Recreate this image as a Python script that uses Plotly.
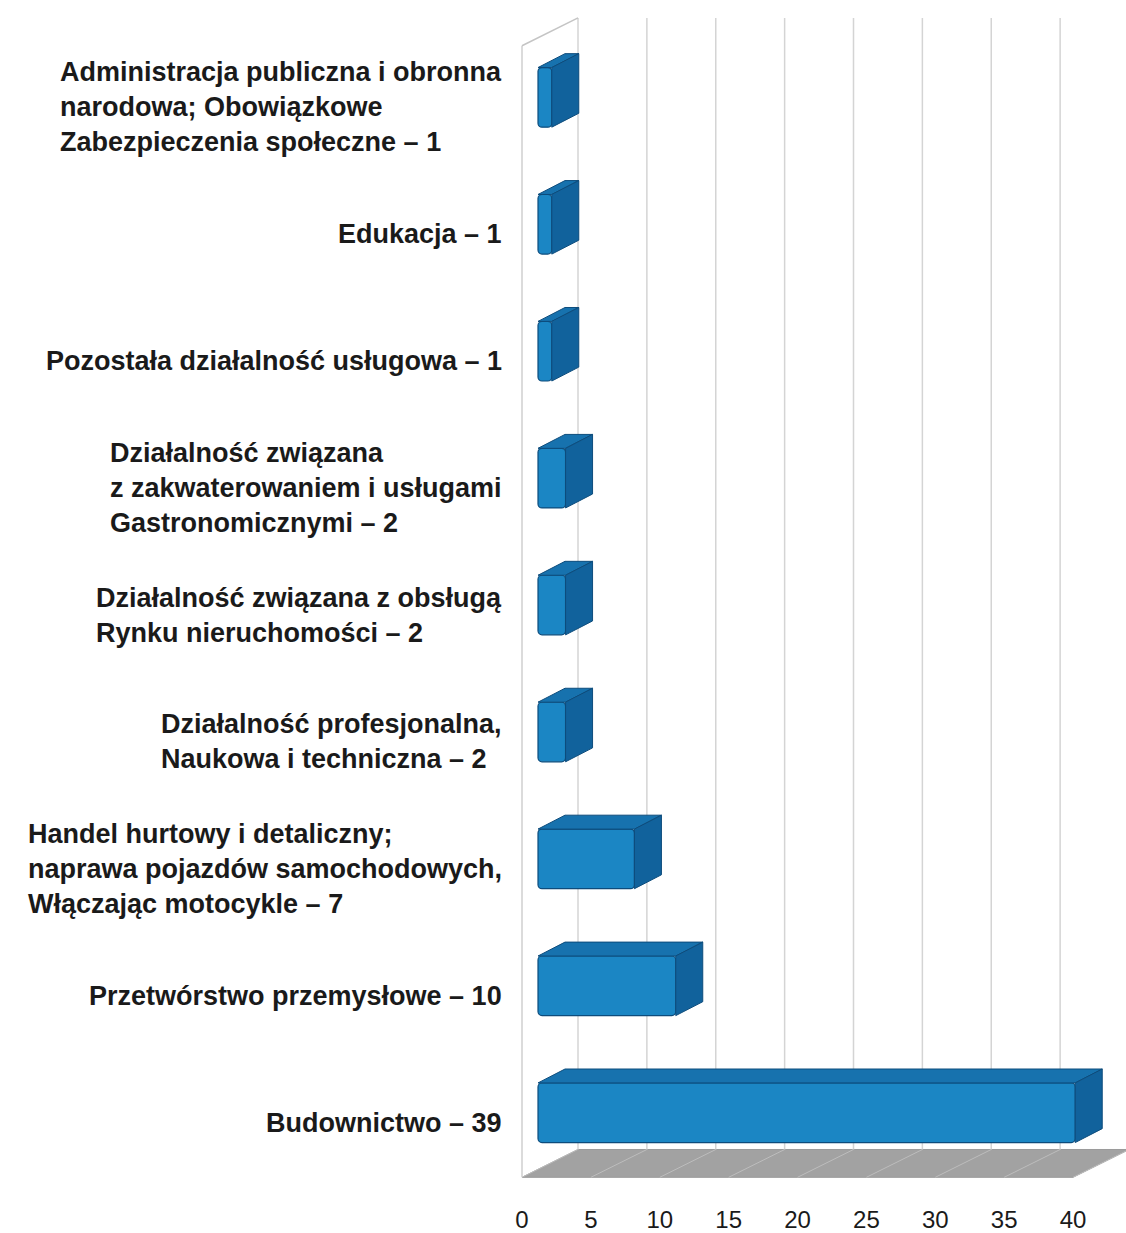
import plotly.graph_objects as go

# ---------------- data ----------------
categories = [
    "Administracja publiczna i obronna<br>narodowa; Obowiązkowe<br>Zabezpieczenia społeczne",
    "Edukacja",
    "Pozostała działalność usługowa",
    "Działalność związana<br>z zakwaterowaniem i usługami<br>Gastronomicznymi",
    "Działalność związana z obsługą<br>Rynku nieruchomości",
    "Działalność profesjonalna,<br>Naukowa i techniczna",
    "Handel hurtowy i detaliczny;<br>naprawa pojazdów samochodowych,<br>Włączając motocykle",
    "Przetwórstwo przemysłowe",
    "Budownictwo",
]
values = [1, 1, 1, 2, 2, 2, 7, 10, 39]
tick_values = [0, 5, 10, 15, 20, 25, 30, 35, 40]
tick_labels = ["0", "5", "10", "15", "20", "25", "30", "35", "40"]

# ---------------- geometry (pixels -> axis units) ----------------
W, H = 1126, 1233
X0_PX, PX_PER_UNIT = 522.0, 13.775
ROW0_PX, ROW_PX = 98.0, 127.75


def xd(px):
    return (px - X0_PX) / PX_PER_UNIT


def yd(py):
    return (py - ROW0_PX) / ROW_PX


bar_base = xd(538)
bar_w = 60 / ROW_PX
ddx, ddy = 27 / PX_PER_UNIT, 14 / ROW_PX        # bar depth
wdx, wdy = 56 / PX_PER_UNIT, 28 / ROW_PX        # wall depth
y_floor_front = yd(1185)
y_floor_back = y_floor_front - wdy
y_wall_top = yd(18)

FRONT = "#1b86c4"
TOP = "#1772ae"
SIDE = "#11629c"
EDGE = "#0d4c7c"

n = len(values)
pos = list(range(n))

fig = go.Figure()

# front faces
fig.add_trace(go.Bar(
    y=pos, x=values, base=[bar_base] * n, orientation="h", width=bar_w,
    marker=dict(color=FRONT, line=dict(color=EDGE, width=1.2), cornerradius=4),
    hoverinfo="skip", showlegend=False,
))

# top and side faces
for i, v in enumerate(values):
    yt = i - bar_w / 2
    yb = i + bar_w / 2
    x1 = bar_base + v
    fig.add_trace(go.Scatter(
        x=[bar_base, x1, x1 + ddx, bar_base + ddx, bar_base],
        y=[yt, yt, yt - ddy, yt - ddy, yt],
        fill="toself", fillcolor=TOP, mode="lines",
        line=dict(color=EDGE, width=1), hoverinfo="skip", showlegend=False,
    ))
    fig.add_trace(go.Scatter(
        x=[x1, x1 + ddx, x1 + ddx, x1, x1],
        y=[yt, yt - ddy, yb - ddy, yb, yt],
        fill="toself", fillcolor=SIDE, mode="lines",
        line=dict(color=EDGE, width=1), hoverinfo="skip", showlegend=False,
    ))

shapes = []
# floor
shapes.append(dict(
    type="path", xref="x", yref="y", layer="below",
    path=(f"M {tick_values[0]},{y_floor_front} L {tick_values[-1]},{y_floor_front} "
          f"L {tick_values[-1] + wdx},{y_floor_back} L {tick_values[0] + wdx},{y_floor_back} Z"),
    fillcolor="#a2a2a2", line=dict(color="#9a9a9a", width=1),
))
# back wall gridlines and floor diagonals
for t in tick_values:
    shapes.append(dict(type="line", xref="x", yref="y", layer="below",
                       x0=t + wdx, x1=t + wdx, y0=y_wall_top, y1=y_floor_back,
                       line=dict(color="#d4d4d4", width=1.5)))
    shapes.append(dict(type="line", xref="x", yref="y", layer="below",
                       x0=t, x1=t + wdx, y0=y_floor_front, y1=y_floor_back,
                       line=dict(color="#bdbdbd", width=1)))
# left side wall
shapes.append(dict(type="line", xref="x", yref="y", layer="below",
                   x0=0, x1=0, y0=y_wall_top + wdy, y1=y_floor_front,
                   line=dict(color="#cfcfcf", width=1.5)))
shapes.append(dict(type="line", xref="x", yref="y", layer="below",
                   x0=0, x1=wdx, y0=y_wall_top + wdy, y1=y_wall_top,
                   line=dict(color="#c4c4c4", width=1.5)))

annotations = []
for i, (name, v) in enumerate(zip(categories, values)):
    annotations.append(dict(
        text=f"{name} – {v}", xref="paper", yref="y", x=504 / W, y=i,
        xanchor="right", yanchor="middle", align="left", showarrow=False,
        yshift=-10,
        font=dict(family="Arial, Liberation Sans, sans-serif", size=27,
                  color="#1a1a1a", weight="bold"),
    ))

fig.update_layout(
    width=W, height=H,
    margin=dict(l=0, r=0, t=0, b=0),
    paper_bgcolor="white", plot_bgcolor="rgba(0,0,0,0)",
    shapes=shapes, annotations=annotations,
    xaxis=dict(
        domain=[515 / W, 1.0], range=[xd(515), xd(W)],
        tickvals=tick_values, ticktext=tick_labels,
        ticks="outside", ticklen=14, tickcolor="rgba(0,0,0,0)",
        showgrid=False, zeroline=False, showline=False,
        tickfont=dict(family="Arial, Liberation Sans, sans-serif", size=24, color="#1a1a1a"),
    ),
    yaxis=dict(
        domain=[1 - 1192 / H, 1 - 10 / H], range=[yd(1192), yd(10)],
        showgrid=False, zeroline=False, showline=False, showticklabels=False,
    ),
)

fig.write_html(
    "out.html",
    config={"displayModeBar": False},
    post_script="document.body.style.margin='0';document.body.style.overflow='hidden';",
)
